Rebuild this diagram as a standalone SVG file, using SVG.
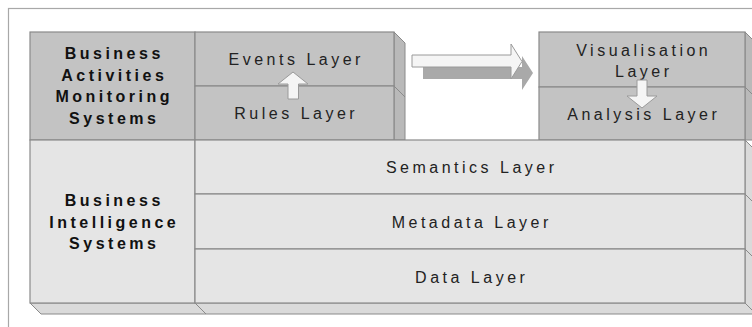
<svg xmlns="http://www.w3.org/2000/svg" width="752" height="327" viewBox="0 0 752 327">
<defs>
<style>
.top{fill:#c3c3c3;stroke:#8a8a8a;stroke-width:1.2}
.bot{fill:#e5e5e5;stroke:#8a8a8a;stroke-width:1.2}
.sideT{fill:#b9b9b9;stroke:#8a8a8a;stroke-width:1}
.sideB{fill:#dadada;stroke:#8a8a8a;stroke-width:1}
.edge{stroke:#8a8a8a;stroke-width:1;fill:none}
.lbl{font-family:"Liberation Sans",Arial,sans-serif;font-size:16px;letter-spacing:3.5px;fill:#222;text-anchor:middle}
.b{font-weight:bold;fill:#111}
.arr{fill:#f5f5f5;stroke:#9a9a9a;stroke-width:1}
</style>
</defs>
<rect x="0" y="0" width="752" height="327" fill="#ffffff"/>
<rect x="8.5" y="8.5" width="800" height="400" fill="#ffffff" stroke="#a8a8a8" stroke-width="1.2"/>

<g id="bam">
<rect class="top" x="30" y="32" width="165" height="108"/>
<text class="lbl b" x="114.25" y="59">Business</text>
<text class="lbl b" x="114.25" y="80.5">Activities</text>
<text class="lbl b" x="114.25" y="102">Monitoring</text>
<text class="lbl b" x="114.25" y="123.5">Systems</text>
</g>

<g id="events-rules-side">
<polygon class="sideT" points="394,32 405,43 405,140 394,140"/>
<line class="edge" x1="394" y1="86" x2="405" y2="97"/>
</g>
<g id="events">
<rect class="top" x="195" y="32" width="199" height="54"/>
<text class="lbl" x="296.25" y="65">Events Layer</text>
</g>
<g id="rules">
<rect class="top" x="195" y="86" width="199" height="54"/>
<text class="lbl" x="296.25" y="119">Rules Layer</text>
</g>

<g id="vis-analysis-side">
<polygon class="sideT" points="745,32 756,43 756,140 745,140"/>
<line class="edge" x1="745" y1="87" x2="756" y2="98"/>
</g>
<g id="visualisation">
<rect class="top" x="539" y="32" width="206" height="55"/>
<text class="lbl" x="643.75" y="56">Visualisation</text>
<text class="lbl" x="643.75" y="77">Layer</text>
</g>
<g id="analysis">
<rect class="top" x="539" y="87" width="206" height="53"/>
<text class="lbl" x="643.75" y="120">Analysis Layer</text>
</g>

<g id="bottom-faces">
<polygon class="sideB" points="30,303 745,303 756,314 41,314"/>
<line class="edge" x1="195" y1="303" x2="206" y2="314"/>
<polygon class="sideB" points="745,140 756,151 756,314 745,303"/>
<line class="edge" x1="745" y1="194" x2="756" y2="205"/>
<line class="edge" x1="745" y1="249" x2="756" y2="260"/>
</g>
<g id="bi">
<rect class="bot" x="30" y="140" width="165" height="163"/>
<text class="lbl b" x="114.25" y="206">Business</text>
<text class="lbl b" x="114.25" y="227.5">Intelligence</text>
<text class="lbl b" x="114.25" y="249">Systems</text>
</g>
<g id="semantics">
<rect class="bot" x="195" y="140" width="550" height="54"/>
<text class="lbl" x="471.75" y="173">Semantics Layer</text>
</g>
<g id="metadata">
<rect class="bot" x="195" y="194" width="550" height="55"/>
<text class="lbl" x="471.75" y="228">Metadata Layer</text>
</g>
<g id="data">
<rect class="bot" x="195" y="249" width="550" height="54"/>
<text class="lbl" x="471.75" y="283">Data Layer</text>
</g>

<g id="connectors">
<polygon fill="#a9a9a9" points="423,67 522,67 522,56 533,73 522,90 522,79 423,79"/>
<polygon class="arr" points="412,55 511,55 511,44 522,61.5 511,79 511,67 412,67"/>
<polygon class="arr" points="293,72 308,84 298.5,84 298.5,99 288,99 288,84 278,84"/>
<polygon class="arr" points="637,80 647,80 647,96 657,96 642,108 627,96 637,96"/>
</g>
</svg>
